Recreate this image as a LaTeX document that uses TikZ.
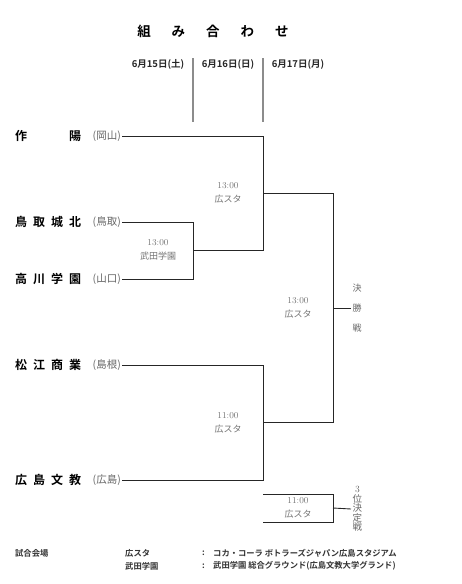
\documentclass[tikz,border=0pt]{standalone}
\usepackage{fontspec}
\usepackage{xcolor}
\newfontfamily\jp{Noto Sans CJK JP}[BoldFont={Noto Sans CJK JP Bold}]
\usetikzlibrary{positioning}

\begin{document}
\begin{tikzpicture}[x=1pt, y=-1pt, font=\jp,
  team/.style={anchor=west, inner sep=0pt, font=\jp\bfseries\fontsize{12}{14}\selectfont},
  pref/.style={anchor=east, inner sep=1pt, text=black!60, font=\jp\fontsize{10.5}{12}\selectfont},
  fecha/.style={font=\jp\bfseries\fontsize{9.5}{11}\selectfont, text=black!85},
  hora/.style={align=center, text=black!55, font=\fontsize{9}{14.5}\selectfont},
  ronda/.style={anchor=west, inner sep=1.5pt, align=center, text=black!60},
  pie/.style={anchor=west, inner sep=0pt, font=\jp\bfseries\fontsize{8.3}{13}\selectfont, text=black!80},
  cuadro/.style={line width=0.9pt, black!85},
  separa/.style={line width=1.6pt, black!45}]
\useasboundingbox (0,0) rectangle (462,584);
% titulo y fechas
\node[font=\jp\bfseries\fontsize{13.5}{15}\selectfont] (titulo) at (213,31)
  {組\hspace{21pt}み\hspace{21pt}合\hspace{21pt}わ\hspace{21pt}せ};
\node[fecha] (d1) at (158,64) {6月15日(土)};
\node[fecha] (d2) at (228,64) {6月16日(日)};
\node[fecha] (d3) at (298,64) {6月17日(月)};
\draw[separa] (193,58) -- (193,122);
\draw[separa] (263,58) -- (263,122);
% equipos
\node[team] (t1) at (15,136) {作\hspace{42pt}陽};
\node[pref] (p1) at (122,136) {(岡山)};
\node[team] (t2) at (15,222) {鳥\hspace{6pt}取\hspace{6pt}城\hspace{6pt}北};
\node[pref] (p2) at (122,222) {(鳥取)};
\node[team] (t3) at (15,279) {高\hspace{6pt}川\hspace{6pt}学\hspace{6pt}園};
\node[pref] (p3) at (122,279) {(山口)};
\node[team] (t4) at (15,365) {松\hspace{6pt}江\hspace{6pt}商\hspace{6pt}業};
\node[pref] (p4) at (122,365) {(島根)};
\node[team] (t5) at (15,480) {広\hspace{6pt}島\hspace{6pt}文\hspace{6pt}教};
\node[pref] (p5) at (122,480) {(広島)};
% cruces
\coordinate (g1) at (193,250);
\coordinate (g2) at (263,193);
\coordinate (g3) at (263,422);
\coordinate (g4) at (333,308);
\coordinate (g5) at (333,508);
\coordinate (l1) at (263,494);
\coordinate (l2) at (263,522);
\draw[cuadro] (p2.east) -| (g1);
\draw[cuadro] (p3.east) -| (g1);
\draw[cuadro] (p1.east) -| (g2);
\draw[cuadro] (g1) -| (g2);
\draw[cuadro] (p4.east) -| (g3);
\draw[cuadro] (p5.east) -| (g3);
\draw[cuadro] (g2) -| (g4);
\draw[cuadro] (g3) -| (g4);
\draw[cuadro] (l1) -| (g5);
\draw[cuadro] (l2) -| (g5);
% horarios
\node[hora] (h1) at (158,250) {13:00\\{\jp 武田学園}};
\node[hora] (h2) at (228,193) {13:00\\{\jp 広スタ}};
\node[hora] (h3) at (228,423) {11:00\\{\jp 広スタ}};
\node[hora] (h4) at (298,308) {13:00\\{\jp 広スタ}};
\node[hora] (h5) at (298,508) {11:00\\{\jp 広スタ}};
% final y tercer puesto
\node[ronda, font=\jp\fontsize{9}{20}\selectfont] (fin) at (351,308) {決\\勝\\戦};
\node[ronda, font=\jp\fontsize{9.5}{9.6}\selectfont] (tercero) at (351,509)
  {{\rmfamily 3}\\位\\決\\定\\戦};
\draw[cuadro] (g4) -- (fin.west);
\draw[cuadro] (g5) -- (tercero.west);
% sedes
\node[pie] (s0) at (15,553) {試合会場};
\node[pie] (s1) at (125,553) {広スタ};
\node[pie] (s2) at (125,566) {武田学園};
\node[pie] (c1) at (202,553) {:};
\node[pie] (c2) at (202,566) {:};
\node[pie] (n1) at (213,553) {コカ・コーラ ボトラーズジャパン広島スタジアム};
\node[pie] (n2) at (213,566) {武田学園 総合グラウンド(広島文教大学グランド)};
\end{tikzpicture}
\end{document}
